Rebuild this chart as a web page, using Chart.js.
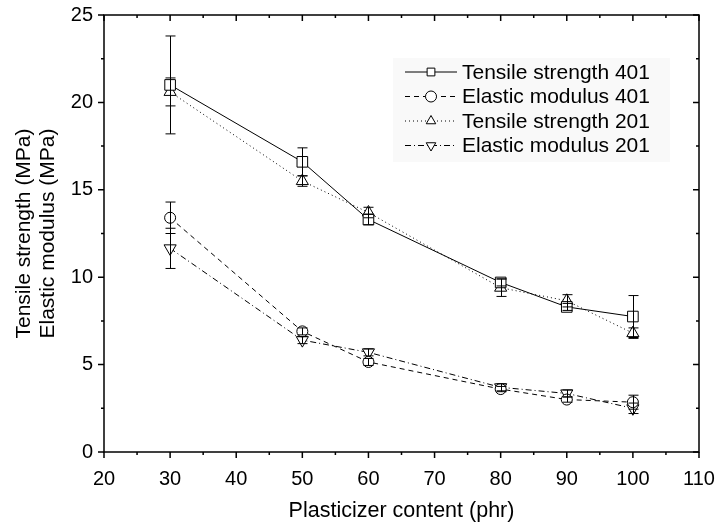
<!DOCTYPE html>
<html lang="en">
<head>
  <meta charset="UTF-8">
  <title>Tensile strength and elastic modulus vs plasticizer content</title>
  <script src="https://cdn.jsdelivr.net/npm/chart.js"></script>
  <style>
    body { margin: 0; padding: 0; background: #fff; }
    #wrap { width: 715px; height: 524px; }
  </style>
</head>
<body>
  <div id="wrap"><canvas id="chart" width="715" height="524"></canvas></div>

  <script>
    // data
    const phr = [30, 50, 60, 80, 90, 100];
    const tensile401 = [21.0, 16.6, 13.3, 9.7, 8.3, 7.75];
    const tensile401Err = [2.8, 0.8, 0.3, 0.2, 0.2, 1.2];
    const elastic401 = [13.4, 6.9, 5.15, 3.6, 3.0, 2.85];
    const elastic401Err = [0.9, 0.2, 0.2, 0.15, 0.15, 0.4];
    const tensile201 = [20.6, 15.5, 13.7, 9.4, 8.65, 6.8];
    const tensile201Err = [0.8, 0.3, 0.3, 0.5, 0.35, 0.3];
    const elastic201 = [11.65, 6.4, 5.7, 3.7, 3.35, 2.5];
    const elastic201Err = [1.15, 0.2, 0.2, 0.2, 0.2, 0.3];
    const seriesNames = ['Tensile strength 401', 'Elastic modulus 401', 'Tensile strength 201', 'Elastic modulus 201'];

    const FONT = 'Arial, "Liberation Sans", sans-serif';

    const toPts = ys => phr.map((x, i) => ({ x: x, y: ys[i] }));

    function makeSet(label, ys, errs, style, dash, rot, r) {
      return {
        label: label,
        data: toPts(ys),
        errors: errs,
        borderColor: '#000',
        borderWidth: 1,
        borderDash: dash,
        pointStyle: style,
        rotation: rot,
        pointRadius: r,
        pointBorderWidth: 1,
        pointBackgroundColor: '#fff',
        pointBorderColor: '#000',
        tension: 0,
        fill: false
      };
    }

    const datasets = [
      makeSet(seriesNames[0], tensile401, tensile401Err, 'rect', [], 0, 7.5),
      makeSet(seriesNames[1], elastic401, elastic401Err, 'circle', [5, 4], 0, 5.5),
      makeSet(seriesNames[2], tensile201, tensile201Err, 'triangle', [1, 3], 0, 7),
      makeSet(seriesNames[3], elastic201, elastic201Err, 'triangle', [6, 3, 1, 3], 180, 7)
    ];

    // error bars, frame with ticks, and the legend box
    const extras = {
      id: 'extras',
      afterDatasetsDraw(chart) {
        const ctx = chart.ctx, xs = chart.scales.x, ys = chart.scales.y;
        ctx.save();
        ctx.strokeStyle = '#000';
        ctx.lineWidth = 1;
        chart.data.datasets.forEach(ds => {
          ds.data.forEach((p, i) => {
            const e = ds.errors[i];
            const px = Math.round(xs.getPixelForValue(p.x)) + 0.5;
            const top = ys.getPixelForValue(p.y + e);
            const bot = ys.getPixelForValue(p.y - e);
            ctx.beginPath();
            ctx.moveTo(px, top); ctx.lineTo(px, bot);
            ctx.moveTo(px - 5, top); ctx.lineTo(px + 5, top);
            ctx.moveTo(px - 5, bot); ctx.lineTo(px + 5, bot);
            ctx.stroke();
          });
        });
        ctx.restore();
      },
      afterDraw(chart) {
        const ctx = chart.ctx, xs = chart.scales.x, ys = chart.scales.y;
        const a = chart.chartArea;
        ctx.save();
        ctx.strokeStyle = '#000';
        ctx.lineWidth = 1.5;
        ctx.strokeRect(a.left, a.top, a.right - a.left, a.bottom - a.top);

        ctx.beginPath();
        for (let v = 20; v <= 110; v += 5) {
          const px = xs.getPixelForValue(v);
          const len = v % 10 === 0 ? 6 : 3;
          ctx.moveTo(px, a.bottom); ctx.lineTo(px, a.bottom + len);
          ctx.moveTo(px, a.top); ctx.lineTo(px, a.top + len);
        }
        for (let v = 0; v <= 25; v += 2.5) {
          const py = ys.getPixelForValue(v);
          const len = v % 5 === 0 ? 6 : 3;
          ctx.moveTo(a.left, py); ctx.lineTo(a.left - len, py);
          ctx.moveTo(a.right, py); ctx.lineTo(a.right - len, py);
        }
        ctx.stroke();

        // legend
        const lx = 393, ly = 58, rowH = 24.5;
        ctx.fillStyle = '#f9f9f9';
        ctx.fillRect(lx, ly, 277, 104);
        ctx.font = '21px ' + FONT;
        ctx.textBaseline = 'middle';
        chart.data.datasets.forEach((ds, i) => {
          const cy = ly + 14 + i * rowH;
          ctx.strokeStyle = '#000';
          ctx.lineWidth = 1;
          ctx.setLineDash(ds.borderDash);
          ctx.beginPath();
          ctx.moveTo(405, cy); ctx.lineTo(457, cy);
          ctx.stroke();
          ctx.setLineDash([]);
          ctx.fillStyle = '#fff';
          Chart.helpers.drawPoint(ctx, {
            pointStyle: ds.pointStyle, rotation: ds.rotation, radius: 5.5, borderWidth: 1
          }, 431, cy);
          ctx.fillStyle = '#000';
          ctx.fillText(ds.label, 462, cy + 1);
        });
        ctx.restore();
      }
    };

    Chart.defaults.font.family = FONT;

    new Chart(document.getElementById('chart'), {
      type: 'line',
      data: { datasets: datasets },
      options: {
        responsive: false,
        animation: false,
        layout: { padding: { top: 15, right: 16, left: 0, bottom: 0 } },
        plugins: { legend: { display: false }, tooltip: { enabled: false } },
        scales: {
          x: {
            type: 'linear',
            min: 20, max: 110,
            grid: { display: false },
            border: { display: false },
            ticks: { stepSize: 10, color: '#000', font: { size: 20, lineHeight: 1 }, padding: 9, maxRotation: 0 },
            title: { display: true, text: 'Plasticizer content (phr)', color: '#000', font: { size: 21.5 }, padding: { top: 8, bottom: 0 } },
            afterFit(s) { s.height = 72; s.paddingRight = 0; s.paddingLeft = 0; }
          },
          y: {
            min: 0, max: 25,
            grid: { display: false },
            border: { display: false },
            ticks: { stepSize: 5, color: '#000', font: { size: 20, lineHeight: 1 }, padding: 3 },
            title: { display: true, text: ['Tensile strength (MPa)', 'Elastic modulus (MPa)'], color: '#000', font: { size: 21, lineHeight: 1.15 }, padding: { top: 12, bottom: 4 } },
            afterFit(s) { s.width = 104; }
          }
        }
      },
      plugins: [extras]
    });
  </script>
</body>
</html>
